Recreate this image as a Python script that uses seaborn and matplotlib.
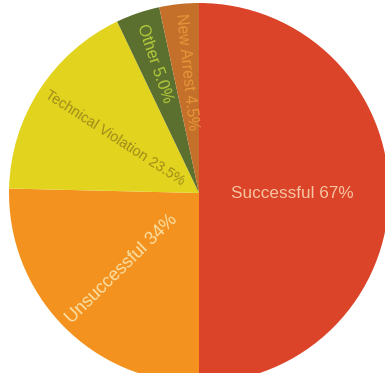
import matplotlib
matplotlib.use("Agg")
import matplotlib.pyplot as plt
import seaborn as sns
import numpy as np

sns.set_theme(style="white")
plt.rcParams['font.family'] = ['Liberation Sans', 'DejaVu Sans']

categories = ["Successful", "Unsuccessful", "Technical Violation", "Other", "New Arrest"]
values = [67, 34, 23.5, 5.0, 4.5]
label_texts = ["Successful 67%", "Unsuccessful 34%", "Technical Violation 23.5%", "Other 5.0%", "New Arrest 4.5%"]

colors = ["#DB4428", "#F4921F", "#E2D41E", "#5B6F2E", "#C4702A"]
text_colors = ["#F7C4A2", "#FAE0A4", "#A08A1A", "#B5CC3C", "#E8953A"]
font_sizes = [12.3, 13, 10.3, 11.7, 11.3]
label_r = [0.49, 0.57, 0.53, 0.72, 0.64]

fig = plt.figure(figsize=(3.85, 3.73), dpi=100)
ax = fig.add_axes([0, 0, 1, 1])
wedges, _ = ax.pie(values, colors=colors, startangle=90, counterclock=False,
                   radius=1.0, wedgeprops=dict(linewidth=0))

for w, txt, tc, fs, r in zip(wedges, label_texts, text_colors, font_sizes, label_r):
    mid = np.deg2rad((w.theta1 + w.theta2) / 2)
    x, y = r * np.cos(mid), r * np.sin(mid)
    rot = np.rad2deg(mid)
    if np.cos(mid) < -1e-6:
        rot -= 180
    ax.text(x, y, txt, rotation=rot, rotation_mode='anchor', ha='center', va='center',
            color=tc, fontsize=fs)

ax.set_xlim(-199 / 190, (385 - 199) / 190)
ax.set_ylim(-(373 - 193) / 190, 193 / 190)
ax.set_aspect('equal')
ax.axis('off')
fig.savefig("out.png", dpi=100)
